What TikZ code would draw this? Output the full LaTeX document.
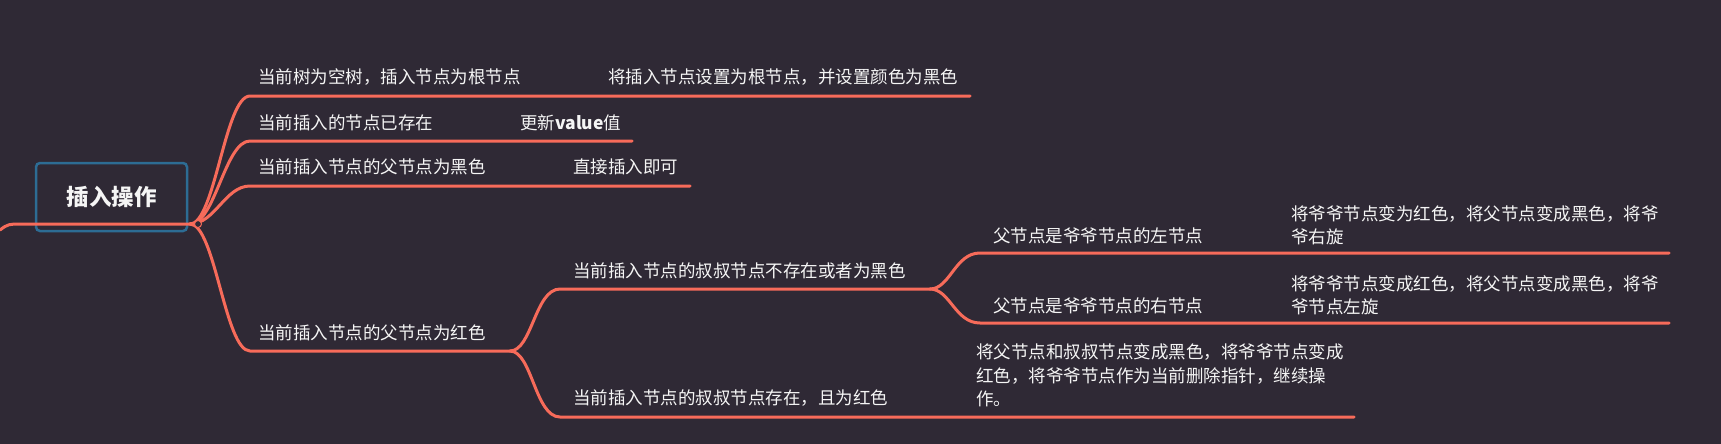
\documentclass[tikz,border=0pt]{standalone}
\usepackage{fontspec}
\newfontfamily\cjk{Noto Sans CJK SC}
\definecolor{bg}{RGB}{47,41,53}
\definecolor{coral}{RGB}{247,107,90}
\definecolor{boxblue}{RGB}{45,108,148}
\definecolor{txt}{RGB}{245,245,245}
\begin{document}
\begin{tikzpicture}[x=1pt,y=-1pt,
  conn/.style={draw=coral,line width=3pt,line cap=round},
  lbl/.style={anchor=base west,inner sep=0pt,text=txt,font=\cjk\fontsize{17.5}{23.5}\selectfont},
  para/.style={lbl,align=left},
  rootbox/.style={draw=boxblue,line width=2.5pt,rounded corners=4pt,minimum width=151pt,minimum height=68pt,text=txt,font=\cjk\bfseries\fontsize{22.5}{27}\selectfont}]
\fill[bg] (0,0) rectangle (1721,444);
\useasboundingbox (0,0) rectangle (1721,444);
% coordinates
\coordinate (e0) at (0,230);
\coordinate (e1) at (25,224);
\coordinate (j0) at (190,224);
\coordinate (b1s) at (250,96);   \coordinate (b1e) at (970,96);
\coordinate (b2s) at (250,141);  \coordinate (b2e) at (632,141);
\coordinate (b3s) at (250,186);  \coordinate (b3e) at (690,186);
\coordinate (b4s) at (250,351);  \coordinate (j1) at (510,351);
\coordinate (bas) at (560,289);  \coordinate (j2) at (930,289);
\coordinate (bbs) at (560,417);  \coordinate (bbe) at (1354,417);
\coordinate (bcs) at (980,253);  \coordinate (bce) at (1669,253);
\coordinate (bds) at (980,323);  \coordinate (bde) at (1669,323);
% root
\node[rootbox] (root) at (111.5,197) {插入操作};
% connectors
\draw[conn] (e0) .. controls (8,224) .. (e1) -- (j0);
\draw[conn] (j0) .. controls +(25,0) and +(-25,0) .. (b1s) -- (b1e);
\draw[conn] (j0) .. controls +(25,0) and +(-25,0) .. (b2s) -- (b2e);
\draw[conn] (j0) .. controls +(25,0) and +(-25,0) .. (b3s) -- (b3e);
\draw[conn] (j0) .. controls +(25,0) and +(-25,0) .. (b4s) -- (j1);
\draw[conn] (j1) .. controls +(22,0) and +(-25,0) .. (bas) -- (j2);
\draw[conn] (j1) .. controls +(22,0) and +(-25,0) .. (bbs) -- (bbe);
\draw[conn] (j2) .. controls +(20,0) and +(-25,0) .. (bcs) -- (bce);
\draw[conn] (j2) .. controls +(20,0) and +(-25,0) .. (bds) -- (bde);
\node[circle,draw=coral,fill=bg,inner sep=0pt,minimum size=7pt,line width=1pt] (knob) at (198,224) {};
% labels
\node[lbl] (t1) at (258,83.6) {当前树为空树，插入节点为根节点};
\node[lbl] (t1c) at (608,83.6) {将插入节点设置为根节点，并设置颜色为黑色};
\node[lbl] (t2) at (258,129.6) {当前插入的节点已存在};
\node[lbl] (t2c) at (520,129.6) {更新{\bfseries value}值};
\node[lbl] (t3) at (258,173.6) {当前插入节点的父节点为黑色};
\node[lbl] (t3c) at (573,173.6) {直接插入即可};
\node[lbl] (t4) at (258,339.6) {当前插入节点的父节点为红色};
\node[lbl] (ta) at (573,277.6) {当前插入节点的叔叔节点不存在或者为黑色};
\node[lbl] (tb) at (573,404.6) {当前插入节点的叔叔节点存在，且为红色};
\node[para] (tbc) at (976,405.6) {将父节点和叔叔节点变成黑色，将爷爷节点变成\\红色，将爷爷节点作为当前删除指针，继续操\\作。};
\node[lbl] (tc) at (993,242.6) {父节点是爷爷节点的左节点};
\node[lbl] (td) at (993,312.6) {父节点是爷爷节点的右节点};
\node[para] (tcc) at (1291,243.6) {将爷爷节点变为红色，将父节点变成黑色，将爷\\爷右旋};
\node[para] (tdc) at (1291,313.6) {将爷爷节点变成红色，将父节点变成黑色，将爷\\爷节点左旋};
\end{tikzpicture}
\end{document}
